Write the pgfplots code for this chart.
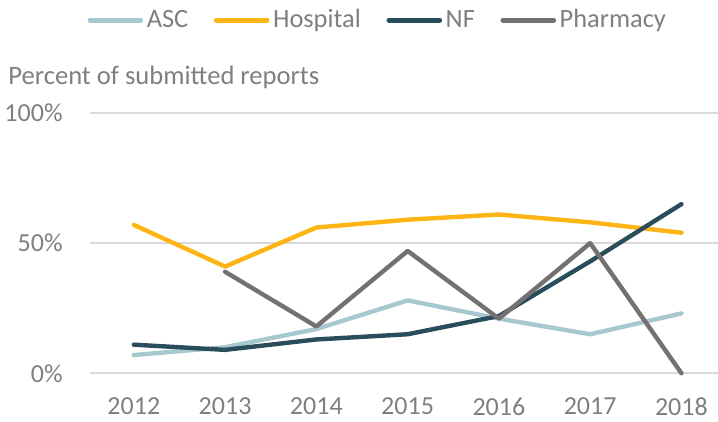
\documentclass[border=0pt]{standalone}
\usepackage{pgfplots}
\pgfplotsset{compat=1.18}
\usepackage{fontspec}
\setmainfont{Carlito}

\definecolor{ascc}{HTML}{A6C8CE}
\definecolor{hospc}{HTML}{FDB515}
\definecolor{nfc}{HTML}{2A4D5C}
\definecolor{pharmc}{HTML}{767171}
\definecolor{txtc}{HTML}{7F7F7F}
\definecolor{gridc}{HTML}{D9D9D9}

\begin{document}
\begin{tikzpicture}
\path[use as bounding box] (0,0) rectangle (359pt,211pt);
\begin{axis}[
    at={(45pt,24.35pt)}, anchor=south west,
    scale only axis,
    width=314pt, height=130.15pt,
    xmin=2011.52, xmax=2018.4,
    ymin=0, ymax=100,
    axis line style={draw=none},
    tick style={draw=none},
    clip=false,
    xtick={2012,...,2018},
    ytick={0,50,100},
    ymajorgrids,
    grid style={gridc, line width=1pt},
    major tick length=0pt,
    /pgf/number format/assume math mode=true,
    /pgf/number format/1000 sep={},
    yticklabel={\pgfmathprintnumber{\tick}\%},
    ticklabel style={font=\fontsize{13}{15}\selectfont, text=txtc},
    yticklabel style={anchor=east, inner sep=0pt, xshift=-13.5pt},
    xticklabel style={anchor=north, inner sep=0pt, yshift=-12pt},
    legend columns=4,
    legend style={at={(-0.0045,1.357)}, anchor=west, draw=none, fill=none,
        inner sep=0pt, font=\fontsize{13.2}{15}\selectfont, text=txtc,
        nodes={inner xsep=1.8pt, inner ysep=0pt},
        /tikz/every even column/.append style={column sep=11pt}},
    legend image code/.code={\draw[#1, line width=2.5pt, line cap=round] (0pt,0pt) -- (25.3pt,0pt);},
    every axis plot/.append style={line width=2.2pt, line join=round, line cap=round},
]
\addplot[ascc] coordinates {(2012,7) (2013,10) (2014,17) (2015,28) (2016,21) (2017,15) (2018,23)};
\addlegendentry{ASC}
\addplot[hospc] coordinates {(2012,57) (2013,41) (2014,56) (2015,59) (2016,61) (2017,58) (2018,54)};
\addlegendentry{Hospital}
\addplot[nfc] coordinates {(2012,11) (2013,9) (2014,13) (2015,15) (2016,22) (2017,43) (2018,65)};
\addlegendentry{NF}
\addplot[pharmc] coordinates {(2013,39) (2014,18) (2015,47) (2016,21) (2017,50) (2018,0)};
\addlegendentry{Pharmacy}
\node[anchor=base west, inner sep=0pt, text=txtc, font=\fontsize{13.3}{15}\selectfont]
    at (axis description cs:-0.1306,1.1076) {Percent of submitted reports};
\end{axis}
\end{tikzpicture}
\end{document}
